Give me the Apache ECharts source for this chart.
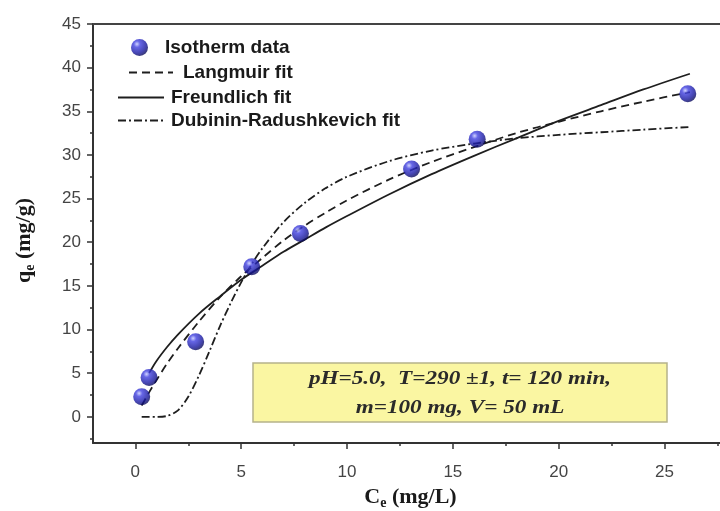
<!DOCTYPE html>
<html>
<head>
<meta charset="utf-8">
<script src="https://cdn.jsdelivr.net/npm/echarts@6/dist/echarts.min.js"></script>
<style>html,body{margin:0;padding:0;background:#fff}#c{width:720px;height:511px}</style>
</head>
<body>
<div id="c"></div>
<script>
// ---- data ----
const dataX = [0.3, 0.65, 2.85, 5.5, 7.8, 13.05, 16.15, 26.1];
const dataY = [2.3, 4.5, 8.6, 17.2, 21.0, 28.4, 31.8, 37.0];

const langX = [0.3, 0.65, 1, 1.5, 2, 3, 4, 5, 6, 7, 8, 9, 10, 12, 14, 16, 18, 20, 22, 24, 26.2];
const langY = [1.3, 2.8, 4.2, 6.1, 7.8, 10.9, 13.7, 16.1, 18.2, 20.2, 21.9, 23.4, 24.8, 27.2, 29.2, 30.9, 32.5, 33.8, 35.0, 36.1, 37.2];

const freX = [0.65, 1, 1.5, 2, 3, 4, 5, 6, 7, 8, 9, 10, 12, 14, 16, 18, 20, 22, 24, 26.2];
const freY = [5.0, 6.4, 8.0, 9.4, 11.8, 13.8, 15.7, 17.3, 18.9, 20.3, 21.7, 23.0, 25.5, 27.8, 29.9, 31.9, 33.9, 35.7, 37.5, 39.3];

const drX = [0.3, 0.6, 1.0, 1.5, 2.0, 2.5, 3.0, 3.5, 4.0, 4.5, 5.0, 5.5, 6.0, 7.0, 8.0, 9.0, 10, 12, 14, 16, 18, 20, 22, 24, 26.2];
const drY = [0, 0, 0, 0.1, 0.7, 2.3, 4.7, 7.5, 10.4, 13.0, 15.4, 17.5, 19.3, 22.3, 24.5, 26.2, 27.5, 29.3, 30.5, 31.3, 31.9, 32.3, 32.6, 32.9, 33.2];

const xTicks = [0, 5, 10, 15, 20, 25];
const xMinor = [2.5, 7.5, 12.5, 17.5, 22.5, 27.5];
const yTicks = [0, 5, 10, 15, 20, 25, 30, 35, 40, 45];
const yMinor = [-2.5, 2.5, 7.5, 12.5, 17.5, 22.5, 27.5, 32.5, 37.5, 42.5];

const seriesNames = ['Isotherm data', 'Langmuir fit', 'Freundlich fit', 'Dubinin-Radushkevich fit'];
const infoLines = ['pH=5.0,  T=290 \u00b11, t= 120 min,', 'm=100 mg, V= 50 mL'];

const zip = (xs, ys) => xs.map((x, i) => [x, ys[i]]);

const axisColor = '#333';
const lineColor = '#1e1e1e';
const legendFont = { fontFamily: 'Liberation Sans, Arial, sans-serif', fontWeight: 'bold', fontSize: 19, color: '#1a1a1a' };
const serifFamily = 'Liberation Serif, Times New Roman, serif';
const nameRich = {
  b: { fontFamily: serifFamily, fontWeight: 'bold', fontSize: 22, color: '#1a1a1a' },
  s: { fontFamily: serifFamily, fontWeight: 'bold', fontSize: 14, color: '#1a1a1a', padding: [12, 0, 0, 0] }
};

const chart = echarts.init(document.getElementById('c'), null, { renderer: 'canvas' });

const sphere = new echarts.graphic.RadialGradient(0.35, 0.3, 0.75, [
  { offset: 0, color: '#c4c8ff' },
  { offset: 0.25, color: '#4040e0' },
  { offset: 0.7, color: '#1818a0' },
  { offset: 1, color: '#080850' }
]);

function legendAt(name, left, top, w, h, pad, hideSymbol) {
  const l = {
    data: [name], left: left, top: top, itemWidth: w, itemHeight: h,
    orient: 'vertical', padding: 0, selectedMode: false,
    textStyle: Object.assign({ padding: [0, 0, 0, pad] }, legendFont)
  };
  if (hideSymbol) l.itemStyle = { opacity: 0, color: 'rgba(0,0,0,0)', borderWidth: 0 };
  return l;
}

const smoothness = 0.3;

chart.setOption({
  animation: false,
  backgroundColor: '#fff',
  grid: { left: 93, right: -8, top: 24, bottom: 68, containLabel: false, outerBoundsMode: 'none' },
  legend: [
    legendAt(seriesNames[0], 131, 38, 17, 17, 12, false),
    legendAt(seriesNames[1], 128, 63, 44, 14, 5, true),
    legendAt(seriesNames[2], 117, 88, 46, 14, 2, true),
    legendAt(seriesNames[3], 117, 111, 46, 14, 2, true)
  ],
  xAxis: [
    {
      type: 'value', min: -2, max: 28, position: 'bottom',
      name: '{b|C}{s|e}{b| (mg/L)}', nameLocation: 'middle', nameGap: 41,
      nameTextStyle: { rich: nameRich },
      axisLine: { show: true, onZero: false, lineStyle: { color: axisColor, width: 2 } },
      axisTick: { show: true, customValues: xTicks, length: 6, lineStyle: { color: axisColor, width: 1.5 } },
      axisLabel: { customValues: xTicks, margin: 21, fontSize: 17, color: '#444', fontFamily: 'Liberation Sans, Arial, sans-serif' },
      splitLine: { show: false }
    },
    {
      type: 'value', min: -2, max: 28, position: 'bottom',
      axisLine: { show: false, onZero: false },
      axisTick: { show: true, customValues: xMinor, length: 3, lineStyle: { color: axisColor, width: 1.5 } },
      axisLabel: { show: false }, splitLine: { show: false }
    },
    {
      type: 'value', min: -2, max: 28, position: 'top',
      axisLine: { show: true, onZero: false, lineStyle: { color: '#444', width: 2 } },
      axisTick: { show: false }, axisLabel: { show: false }, splitLine: { show: false }
    }
  ],
  yAxis: [
    {
      type: 'value', min: -3, max: 45, position: 'left',
      name: '{b|q}{s|e}{b| (mg/g)}', nameLocation: 'middle', nameGap: 56, nameRotate: 90,
      nameTextStyle: { rich: nameRich, padding: [0, 14, 0, 0] },
      axisLine: { show: true, onZero: false, lineStyle: { color: axisColor, width: 2 } },
      axisTick: { show: true, customValues: yTicks, length: 6, lineStyle: { color: axisColor, width: 1.5 } },
      axisLabel: { customValues: yTicks, margin: 12, fontSize: 17, color: '#444', fontFamily: 'Liberation Sans, Arial, sans-serif' },
      splitLine: { show: false }
    },
    {
      type: 'value', min: -3, max: 45, position: 'left',
      axisLine: { show: false, onZero: false },
      axisTick: { show: true, customValues: yMinor, length: 3, lineStyle: { color: axisColor, width: 1.5 } },
      axisLabel: { show: false }, splitLine: { show: false }
    }
  ],
  graphic: [
    {
      type: 'rect', shape: { x: 253, y: 363, width: 414, height: 59 },
      style: { fill: '#faf6a2', stroke: '#b5b28a', lineWidth: 1.5 }, z: 1
    },
    {
      type: 'text', x: 460, y: 379, z: 2, scaleX: 1.22, originX: 0,
      style: { text: infoLines[0], align: 'center', verticalAlign: 'middle', font: 'italic bold 19px "Liberation Serif", "Times New Roman", serif', fill: '#2a2a2a' }
    },
    {
      type: 'text', x: 460, y: 408, z: 2, scaleX: 1.22, originX: 0,
      style: { text: infoLines[1], align: 'center', verticalAlign: 'middle', font: 'italic bold 19px "Liberation Serif", "Times New Roman", serif', fill: '#2a2a2a' }
    }
  ],
  series: [
    {
      name: seriesNames[0], type: 'scatter', data: zip(dataX, dataY),
      symbol: 'circle', symbolSize: 17, z: 5,
      itemStyle: { color: sphere }
    },
    {
      name: seriesNames[1], type: 'line', data: zip(langX, langY),
      showSymbol: false, symbol: 'none', smooth: smoothness,
      lineStyle: { color: lineColor, width: 1.8, type: [8, 5] }, itemStyle: { color: lineColor }, z: 3
    },
    {
      name: seriesNames[2], type: 'line', data: zip(freX, freY),
      showSymbol: false, symbol: 'none', smooth: smoothness,
      lineStyle: { color: lineColor, width: 1.8, type: 'solid' }, itemStyle: { color: lineColor }, z: 3
    },
    {
      name: seriesNames[3], type: 'line', data: zip(drX, drY),
      showSymbol: false, symbol: 'none', smooth: smoothness,
      lineStyle: { color: lineColor, width: 1.8, type: [8, 3, 2, 3] }, itemStyle: { color: lineColor }, z: 3
    }
  ]
});
</script>
</body>
</html>
